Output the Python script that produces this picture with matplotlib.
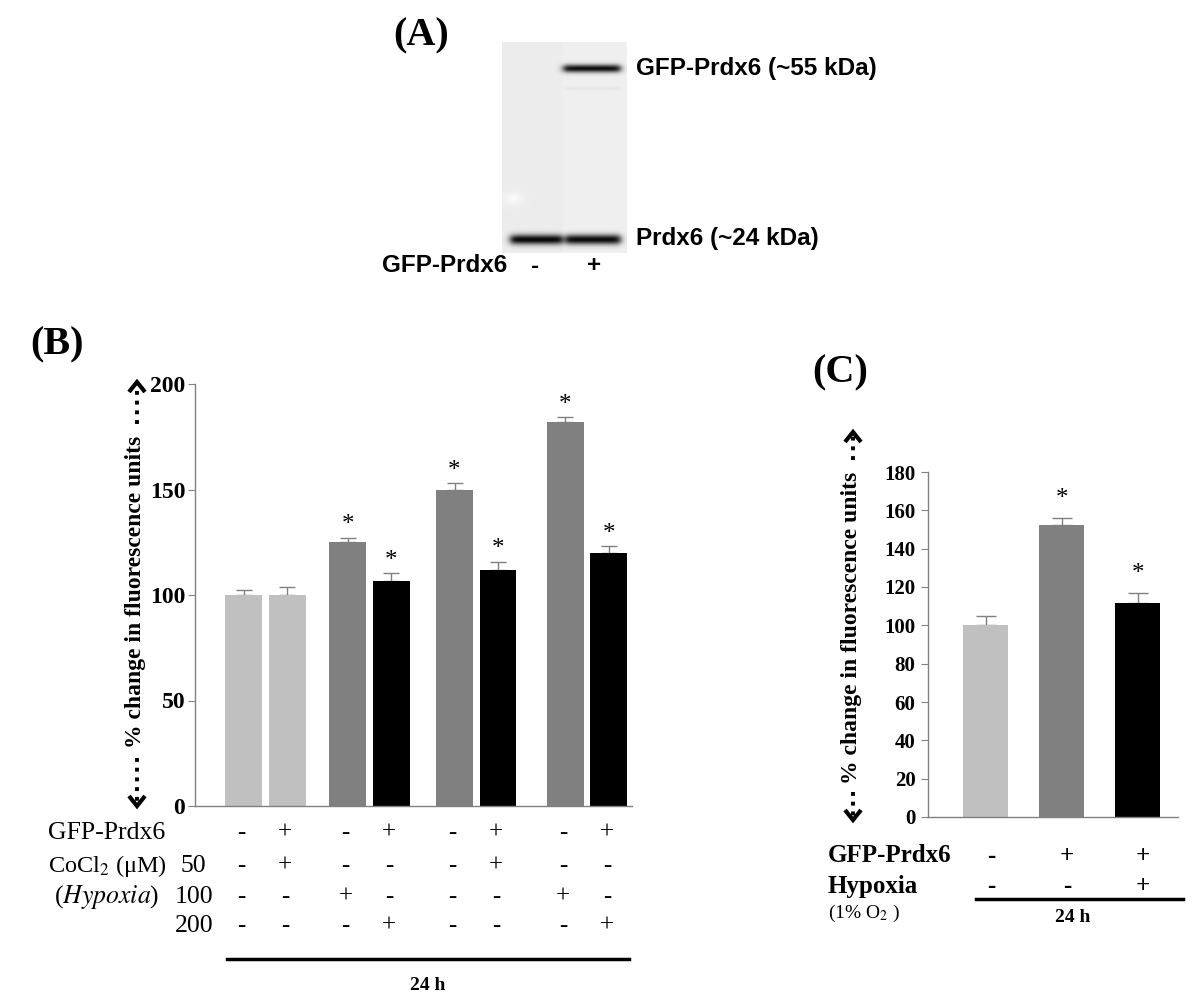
import numpy as np
import matplotlib
matplotlib.use("Agg")
import matplotlib.pyplot as plt
import matplotlib.transforms as mtransforms
from matplotlib.lines import Line2D

plt.rcParams['font.family'] = ['Liberation Serif', 'DejaVu Serif']
plt.rcParams['mathtext.fontset'] = 'stix'

W, H = 1200, 1001

# ---- panel B data ----
b_values = [100, 100, 125, 106.5, 150, 112, 182, 120]
b_errors = [2.6, 4, 2.2, 3.7, 3, 3.7, 2.2, 3]
b_colors = ['#c0c0c0', '#c0c0c0', '#808080', '#000000',
            '#808080', '#000000', '#808080', '#000000']
b_star = [False, False, True, True, True, True, True, True]
b_gfp = ['-', '+', '-', '+', '-', '+', '-', '+']
b_co50 = ['-', '+', '-', '-', '-', '+', '-', '-']
b_co100 = ['-', '-', '+', '-', '-', '-', '+', '-']
b_co200 = ['-', '-', '-', '+', '-', '-', '-', '+']
b_pos = [0, 1, 2.4, 3.4, 4.85, 5.85, 7.4, 8.4]

# ---- panel C data ----
c_values = [100, 152.5, 111.5]
c_errors = [5, 3.3, 5.2]
c_colors = ['#c0c0c0', '#808080', '#000000']
c_star = [False, True, True]
c_gfp = ['-', '+', '+']
c_hyp = ['-', '-', '+']

# ---- panel A (blot bands): lane left/right col, row, half thickness, darkness ----
band_left = [61, 8, 63, 63]
band_right = [118, 60, 118, 118]
band_row = [26, 197, 197, 46]
band_half = [4.0, 5.0, 5.0, 2.0]
band_dark = [0.88, 0.9, 0.9, 0.035]


def fx(px):
    return px / W


def fy(py):
    return 1 - py / H


def dotted_arrow(fig, x, y_tail, y_head):
    fig.add_artist(Line2D([fx(x), fx(x)], [fy(y_tail), fy(y_head)],
                          transform=fig.transFigure, color='black',
                          lw=2.8, linestyle=(0, (1, 1.5))))
    d = 10 if y_head < y_tail else -10
    fig.add_artist(Line2D([fx(x - 8), fx(x), fx(x + 8)],
                          [fy(y_head + d), fy(y_head), fy(y_head + d)],
                          transform=fig.transFigure, color='black', lw=3,
                          solid_capstyle='butt', solid_joinstyle='miter'))


fig = plt.figure(figsize=(W / 100, H / 100), dpi=100)

# ================= panel A =================
ax_a = fig.add_axes([fx(502), fy(253), 125 / W, 211 / H])
rows = np.arange(211)[:, None]
cols = np.arange(125)[None, :]
img = np.full((211, 125), 0.925)
img += 0.012 * (cols > 60)
img += 0.05 * np.exp(-(((rows - 156) / 6.0) ** 2 + ((cols - 11) / 9.0) ** 2))
for l, r, rc, ht, dk in zip(band_left, band_right, band_row, band_half, band_dark):
    vert = np.exp(-((rows - rc) / ht) ** 2)
    horiz = 1 / (1 + np.exp(-(cols - l) / 2.0)) / (1 + np.exp((cols - r) / 2.0))
    img -= dk * vert * horiz
img = np.clip(img, 0, 1)
ax_a.imshow(img, cmap='gray', vmin=0, vmax=1, aspect='auto', interpolation='bilinear')
ax_a.axis('off')

sans = ['Liberation Sans', 'DejaVu Sans']
fig.text(fx(421), fy(36), '(A)', fontsize=29, fontweight='bold', ha='center', va='center')
fig.text(fx(636), fy(68), 'GFP-Prdx6 (~55 kDa)', family=sans, fontsize=17.5,
         fontweight='bold', va='center')
fig.text(fx(636), fy(239), 'Prdx6 (~24 kDa)', family=sans, fontsize=17.5,
         fontweight='bold', va='center')
fig.text(fx(382), fy(266), 'GFP-Prdx6', family=sans, fontsize=17.5,
         fontweight='bold', va='center')
fig.text(fx(535), fy(266), '-', family=sans, fontsize=17.5, fontweight='bold',
         ha='center', va='center')
fig.text(fx(594), fy(266), '+', family=sans, fontsize=17.5, fontweight='bold',
         ha='center', va='center')

# ================= panel B =================
ax_b = fig.add_axes([fx(195), fy(806), 437 / W, 422 / H])
ax_b.bar(b_pos, b_values, width=0.85, color=b_colors, zorder=2)
ax_b.errorbar(b_pos, b_values, yerr=[[0] * len(b_errors), b_errors], fmt='none',
              ecolor='#808080', elinewidth=1, capsize=6, capthick=1, zorder=1)
for x, v, e, s in zip(b_pos, b_values, b_errors, b_star):
    if s:
        ax_b.annotate('*', (x, v + e), xytext=(0, 9), textcoords='offset points',
                      ha='center', va='center', fontsize=18)
ax_b.set_xlim(-1.115, 8.93)
ax_b.set_ylim(0, 200)
ax_b.set_yticks([0, 50, 100, 150, 200])
ax_b.set_xticks([])
for sp in ['top', 'right']:
    ax_b.spines[sp].set_visible(False)
for sp in ['left', 'bottom']:
    ax_b.spines[sp].set_color('#808080')
    ax_b.spines[sp].set_linewidth(1)
ax_b.tick_params(axis='y', length=5, color='#808080', labelsize=17, pad=2)
for lab in ax_b.get_yticklabels():
    lab.set_fontweight('bold')

fig.text(fx(57), fy(345), '(B)', fontsize=29, fontweight='bold', ha='center', va='center')
fig.text(fx(136), fy(592), '% change in fluorescence units', fontsize=17,
         fontweight='bold', rotation=90, ha='center', va='center')
dotted_arrow(fig, 137, 424, 382)
dotted_arrow(fig, 137, 758, 806)

tb = mtransforms.blended_transform_factory(ax_b.transData, fig.transFigure)
row_y = [833, 866, 897, 926]
for marks, y in zip([b_gfp, b_co50, b_co100, b_co200], row_y):
    for x, m in zip(b_pos, marks):
        ax_b.text(x - 0.05, fy(y), m, transform=tb, fontsize=18, ha='center',
                  va='center', clip_on=False)
fig.text(fx(48), fy(833), 'GFP-Prdx6', fontsize=18.5, va='center')
fig.text(fx(48), fy(866), r'CoCl$_2$ (μM)', fontsize=17.5, va='center')
fig.text(fx(206), fy(866), '50', fontsize=18.5, va='center', ha='right')
fig.text(fx(54), fy(897), r'($\it{Hypoxia}$)', fontsize=18.5, va='center')
fig.text(fx(213), fy(897), '100', fontsize=18.5, va='center', ha='right')
fig.text(fx(213), fy(926), '200', fontsize=18.5, va='center', ha='right')
fig.add_artist(Line2D([fx(227), fx(629)], [fy(959), fy(959)],
                      transform=fig.transFigure, color='black', lw=2.5))
fig.text(fx(428), fy(985), '24 h', fontsize=14, fontweight='bold',
         ha='center', va='center')

# ================= panel C =================
ax_c = fig.add_axes([fx(928), fy(817), 250 / W, 345 / H])
c_pos = list(range(len(c_values)))
ax_c.bar(c_pos, c_values, width=0.59, color=c_colors, zorder=2)
ax_c.errorbar(c_pos, c_values, yerr=[[0] * len(c_errors), c_errors], fmt='none',
              ecolor='#808080', elinewidth=1, capsize=7, capthick=1, zorder=1)
for x, v, e, s in zip(c_pos, c_values, c_errors, c_star):
    if s:
        ax_c.annotate('*', (x, v + e), xytext=(0, 14), textcoords='offset points',
                      ha='center', va='center', fontsize=18)
ax_c.set_xlim(-0.757, 2.53)
ax_c.set_ylim(0, 180)
ax_c.set_yticks(range(0, 181, 20))
ax_c.set_xticks([])
for sp in ['top', 'right']:
    ax_c.spines[sp].set_visible(False)
for sp in ['left', 'bottom']:
    ax_c.spines[sp].set_color('#808080')
    ax_c.spines[sp].set_linewidth(1)
ax_c.tick_params(axis='y', length=5, color='#808080', labelsize=15, pad=4)
for lab in ax_c.get_yticklabels():
    lab.set_fontweight('bold')

fig.text(fx(840), fy(373), '(C)', fontsize=29, fontweight='bold', ha='center', va='center')
fig.text(fx(852), fy(628), '% change in fluorescence units', fontsize=17,
         fontweight='bold', rotation=90, ha='center', va='center')
dotted_arrow(fig, 853, 460, 432)
dotted_arrow(fig, 853, 792, 820)

tc = mtransforms.blended_transform_factory(ax_c.transData, fig.transFigure)
for x, g, h in zip(c_pos, c_gfp, c_hyp):
    ax_c.text(x + 0.07, fy(856), g, transform=tc, fontsize=18, fontweight='bold',
              ha='center', va='center', clip_on=False)
    ax_c.text(x + 0.07, fy(887), h, transform=tc, fontsize=18, fontweight='bold',
              ha='center', va='center', clip_on=False)
fig.text(fx(828), fy(856), 'GFP-Prdx6', fontsize=18, fontweight='bold', va='center')
fig.text(fx(828), fy(887), 'Hypoxia', fontsize=18, fontweight='bold', va='center')
fig.text(fx(828), fy(913), r'(1% O$_2$ )', fontsize=14, va='center')
fig.add_artist(Line2D([fx(976), fx(1183)], [fy(899), fy(899)],
                      transform=fig.transFigure, color='black', lw=2.5))
fig.text(fx(1073), fy(918), '24 h', fontsize=14, fontweight='bold',
         ha='center', va='center')

fig.savefig('out.png', dpi=100)
